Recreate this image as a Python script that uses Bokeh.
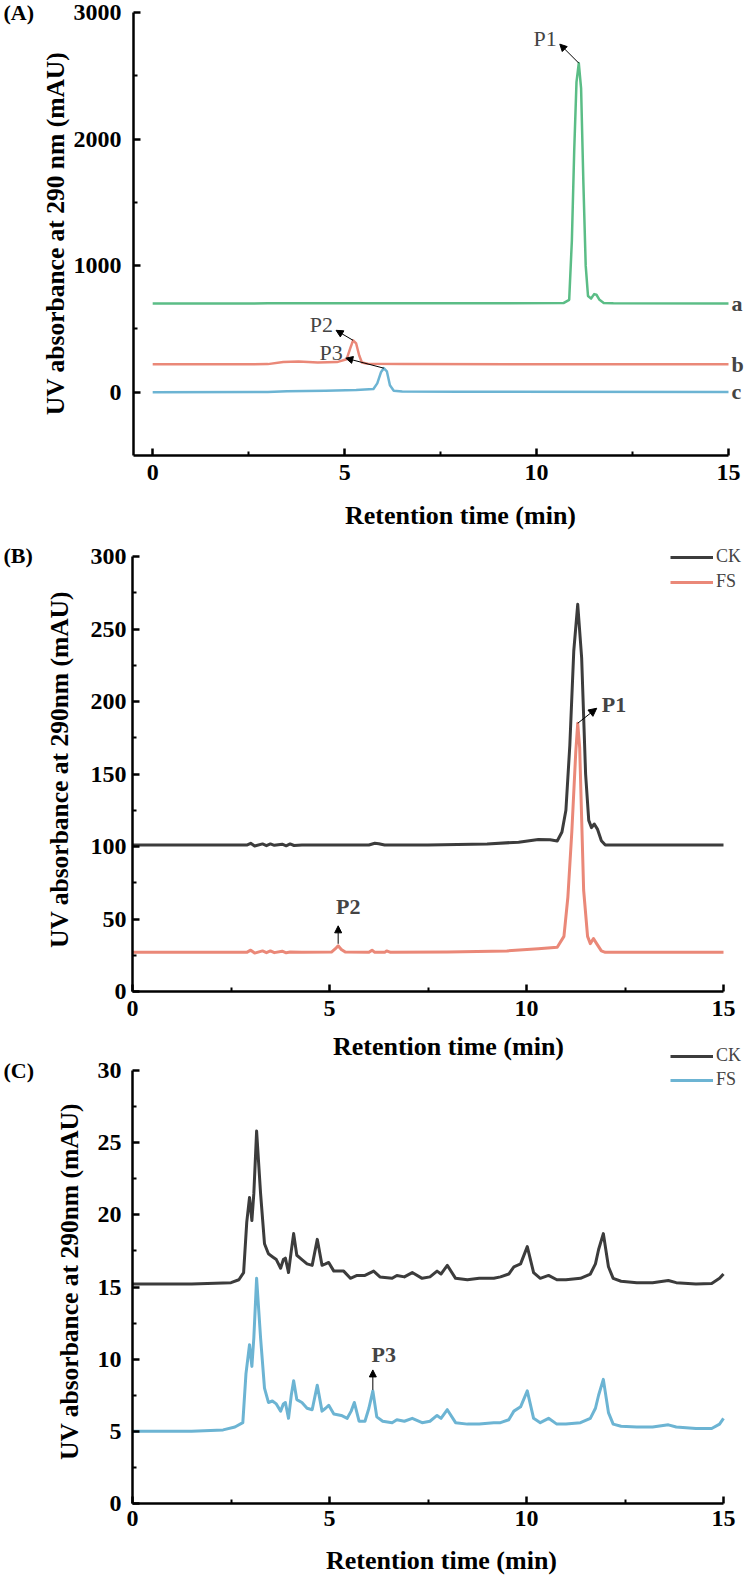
import numpy as np
from bokeh.plotting import figure
from bokeh.models import (Label, Arrow, NormalHead, FixedTicker, Range1d, Legend, LegendItem,
                          LinearAxis)
from bokeh.layouts import column
from bokeh.embed import file_html
from bokeh.resources import INLINE

SERIF = "Liberation Serif"

# ---------------- data : panel A (standards, offset traces) ----------------
a_green_t = [0, 3, 6, 9, 10.7, 10.85, 10.92, 10.98, 11.04, 11.1, 11.16, 11.22, 11.28, 11.34, 11.42, 11.5, 11.56, 11.64, 11.75, 12, 15]
a_green_v = [700, 702, 703, 702, 704, 730, 1200, 1900, 2450, 2600, 2400, 1650, 1000, 760, 740, 775, 770, 730, 705, 702, 700]
a_red_t = [0, 3.0, 3.4, 3.8, 4.3, 4.8, 5.05, 5.15, 5.22, 5.3, 5.38, 5.45, 5.6, 6.5, 10, 15]
a_red_v = [220, 222, 238, 242, 235, 238, 260, 350, 410, 385, 290, 235, 225, 222, 220, 220]
a_blue_t = [0, 3.0, 3.5, 4.5, 5.3, 5.75, 5.85, 5.95, 6.02, 6.1, 6.18, 6.28, 6.5, 8, 15]
a_blue_v = [0, 2, 8, 12, 18, 25, 70, 160, 190, 165, 55, 12, 5, 3, 2]
a_trace_names = ["a", "b", "c"]
a_yticks = [0, 1000, 2000, 3000]
a_yminor = [500, 1500, 2500]

# ---------------- data : panel B ----------------
b_ck_t = [0, 2.9, 3.0, 3.1, 3.3, 3.4, 3.5, 3.6, 3.8, 3.9, 4.0, 4.1, 4.3, 6.0, 6.15, 6.25, 6.4, 7.5, 9.0, 9.8,
          10.3, 10.6, 10.78, 10.9, 11.0, 11.1, 11.2, 11.3, 11.4, 11.5, 11.58, 11.65, 11.72, 11.8, 11.9, 12.0, 13.0, 15.0]
b_ck_v = [101, 101, 102.2, 100.3, 101.8, 100.6, 101.8, 100.8, 101.6, 100.5, 101.8, 100.7, 101, 101, 102.2, 101.9, 101, 101, 101.8, 103,
          104.8, 104.6, 103.8, 110, 125, 170, 235, 267, 230, 150, 118, 113, 115.5, 112, 104, 101, 101, 101]
b_fs_t = [0, 2.9, 3.0, 3.1, 3.3, 3.4, 3.5, 3.6, 3.8, 3.9, 4.0, 4.3, 5.05, 5.15, 5.22, 5.3, 5.4, 6.0, 6.08, 6.15,
          6.4, 6.45, 6.55, 8.0, 9.5, 10.3, 10.78, 10.95, 11.05, 11.15, 11.25, 11.3, 11.35, 11.45, 11.55, 11.62, 11.7, 11.78, 11.9, 12.0, 13.0, 15.0]
b_fs_v = [27, 27, 28.5, 26.5, 28, 26.8, 28, 26.8, 27.8, 26.7, 27.2, 27, 27.2, 29.5, 31.5, 29, 27.2, 27, 28.5, 27,
          27, 28, 27, 27.3, 28, 29.5, 30.5, 38, 65, 110, 165, 185, 168, 70, 38, 33, 36.5, 33, 28, 27, 27, 27]
b_yticks = [0, 50, 100, 150, 200, 250, 300]
b_yminor = [25, 75, 125, 175, 225, 275]

# ---------------- data : panel C ----------------
c_ck_t = [0, 1.5, 2.5, 2.7, 2.82, 2.9, 2.97, 3.03, 3.08, 3.15, 3.25, 3.35, 3.45, 3.55, 3.65, 3.76, 3.83, 3.88, 3.96, 4.03,
          4.09, 4.17, 4.3, 4.43, 4.56, 4.69, 4.81, 4.9, 4.98, 5.11, 5.36, 5.53, 5.7, 5.9, 6.12, 6.28, 6.59, 6.71, 6.9, 7.1,
          7.35, 7.55, 7.73, 7.83, 7.99, 8.2, 8.5, 8.8, 9.17, 9.34, 9.55, 9.68, 9.85, 10.02, 10.18, 10.35, 10.56, 10.77, 11.0, 11.37,
          11.62, 11.75, 11.83, 11.95, 12.08, 12.2, 12.4, 12.8, 13.2, 13.6, 13.8, 14.3, 14.7, 14.9, 15]
c_ck_v = [15.2, 15.2, 15.3, 15.5, 16.0, 19.5, 21.2, 19.6, 21.5, 25.8, 21.5, 18.0, 17.3, 17.1, 16.9, 16.3, 16.9, 17.0, 16.0, 17.5,
          18.7, 17.2, 16.9, 16.6, 16.5, 18.3, 16.5, 16.6, 16.7, 16.1, 16.1, 15.6, 15.8, 15.8, 16.1, 15.7, 15.6, 15.8, 15.7, 16.0,
          15.6, 15.7, 16.1, 15.9, 16.5, 15.6, 15.5, 15.6, 15.6, 15.7, 15.9, 16.4, 16.6, 17.8, 16.0, 15.6, 15.8, 15.5, 15.5, 15.6,
          15.9, 16.6, 17.6, 18.7, 16.4, 15.6, 15.4, 15.3, 15.3, 15.45, 15.3, 15.2, 15.25, 15.6, 15.9]
c_fs_t = [0, 1.5, 2.3, 2.6, 2.8, 2.88, 2.97, 3.03, 3.08, 3.15, 3.25, 3.35, 3.45, 3.55, 3.65, 3.76, 3.83, 3.88, 3.96, 4.03,
          4.09, 4.17, 4.3, 4.43, 4.56, 4.69, 4.81, 4.9, 4.98, 5.11, 5.3, 5.45, 5.55, 5.63, 5.75, 5.9, 6.0, 6.1, 6.2, 6.35,
          6.59, 6.71, 6.9, 7.1, 7.35, 7.55, 7.73, 7.83, 7.99, 8.2, 8.5, 8.8, 9.17, 9.34, 9.55, 9.68, 9.85, 10.02, 10.18, 10.35,
          10.56, 10.77, 11.0, 11.37, 11.62, 11.75, 11.83, 11.95, 12.08, 12.2, 12.4, 12.8, 13.2, 13.6, 13.8, 14.3, 14.7, 14.9, 15]
c_fs_v = [5.0, 5.0, 5.1, 5.3, 5.6, 9.0, 11.0, 9.5, 11.5, 15.6, 11.5, 8.0, 7.0, 7.1, 6.9, 6.4, 6.9, 7.0, 5.9, 7.5,
          8.5, 7.2, 7.0, 6.6, 6.5, 8.2, 6.4, 6.6, 6.8, 6.2, 6.1, 5.9, 6.4, 7.0, 5.7, 5.7, 6.6, 7.8, 6.0, 5.7,
          5.6, 5.8, 5.7, 5.9, 5.6, 5.7, 6.1, 5.9, 6.5, 5.6, 5.5, 5.5, 5.6, 5.6, 5.8, 6.4, 6.7, 7.8, 5.9, 5.6,
          5.9, 5.5, 5.5, 5.6, 5.9, 6.6, 7.5, 8.6, 6.3, 5.5, 5.35, 5.3, 5.3, 5.45, 5.3, 5.2, 5.2, 5.5, 5.9]
c_yticks = [0, 5, 10, 15, 20, 25, 30]
c_yminor = [2.5, 7.5, 12.5, 17.5, 22.5, 27.5]

x_ticks = [0, 5, 10, 15]
x_minor = [2.5, 7.5, 12.5]
series_names = ["CK", "FS"]

for t, v in [(a_green_t, a_green_v), (a_red_t, a_red_v), (a_blue_t, a_blue_v), (b_ck_t, b_ck_v),
             (b_fs_t, b_fs_v), (c_ck_t, c_ck_v), (c_fs_t, c_fs_v)]:
    assert len(t) == len(v), (len(t), len(v))

# ---------------- colours / layout ----------------
GREEN = "#5bbd86"
SALMON = "#ea8878"
BLUE = "#6cb4d3"
DARK = "#3c3c3c"
W = 744
TITLE_SIZE = "25.5px"

# page-pixel geometry of each panel's axes box (figure strip = top .. top+height)
GEOM = {
    "A": dict(top=0, height=535, L=133, R=728, T=12, B=455, x=(-0.5, 15), y=(-500, 3000)),
    "B": dict(top=535, height=495, L=132, R=723, T=556, B=991, x=(0, 15), y=(0, 300)),
    "C": dict(top=1030, height=545, L=132, R=723, T=1070, B=1503, x=(0, 15), y=(0, 30)),
}


def sx(g):
    return (g["R"] - g["L"]) / (g["x"][1] - g["x"][0])


def sy(g):
    return (g["B"] - g["T"]) / (g["y"][1] - g["y"][0])


def to_data(g, X, Y):
    return g["x"][0] + (X - g["L"]) / sx(g), g["y"][0] + (g["B"] - Y) / sy(g)


def dx(g, d):
    return d / sx(g)


def dy(g, d):  # screen px, upward positive
    return d / sy(g)


def make_fig(g, yticks, yminor, ylab_standoff, xlab_standoff):
    # the drawing frame covers the whole figure strip; the axes sit at fixed data locations
    x_start = g["x"][0] - g["L"] / sx(g)
    x_end = g["x"][1] + (W - g["R"]) / sx(g)
    y_end = g["y"][1] + (g["T"] - g["top"]) / sy(g)
    y_start = g["y"][0] - (g["top"] + g["height"] - g["B"]) / sy(g)
    p = figure(width=W, height=g["height"],
               x_range=Range1d(x_start, x_end), y_range=Range1d(y_start, y_end),
               x_axis_type=None, y_axis_type=None,
               output_backend="svg", toolbar_location=None,
               min_border=0, min_border_left=0, min_border_right=0,
               min_border_top=0, min_border_bottom=0)
    p.grid.visible = False
    p.outline_line_color = None

    yax = LinearAxis(fixed_location=g["x"][0], bounds=g["y"],
                     ticker=FixedTicker(ticks=yticks, minor_ticks=yminor))
    xax = LinearAxis(fixed_location=g["y"][0], bounds=g["x"],
                     ticker=FixedTicker(ticks=x_ticks, minor_ticks=x_minor))
    for ax in (xax, yax):
        ax.axis_line_width = 2.5
        ax.axis_line_color = "black"
        ax.major_tick_in = 7
        ax.major_tick_out = 0
        ax.minor_tick_in = 4
        ax.minor_tick_out = 0
        ax.major_tick_line_width = 2.5
        ax.minor_tick_line_width = 2
        ax.major_tick_line_color = "black"
        ax.minor_tick_line_color = "black"
        ax.major_label_text_font = SERIF
        ax.major_label_text_font_style = "bold"
        ax.major_label_text_font_size = "24px"
        ax.major_label_text_color = "black"
    yax.major_label_standoff = ylab_standoff
    xax.major_label_standoff = xlab_standoff
    p.add_layout(yax, "left")
    p.add_layout(xax, "below")
    return p


def add_text(p, g, X, Y, text, size, bold=True, align="left", baseline="middle", angle=0.0):
    x, y = to_data(g, X, Y)
    p.add_layout(Label(x=x, y=y, text=text, text_font=SERIF,
                       text_font_style="bold" if bold else "normal",
                       text_font_size=size, text_color="black",
                       text_align=align, text_baseline=baseline, angle=angle))


def add_arrow(p, x0, y0, x1, y1, size=7):
    p.add_layout(Arrow(end=NormalHead(size=size, fill_color="black", line_color="black", line_width=1),
                       x_start=x0, y_start=y0, x_end=x1, y_end=y1,
                       line_color="black", line_width=1))


def peak(t, v):
    i = int(np.argmax(v))
    return t[i], v[i]


YTITLE_A = "UV absorbance at 290 nm (mAU)"
YTITLE_BC = "UV absorbance at 290nm (mAU)"
XTITLE = "Retention time (min)"

# ================= Panel A =================
gA = GEOM["A"]
pA = make_fig(gA, a_yticks, a_yminor, 12, 9)
pA.line(a_green_t, a_green_v, line_color=GREEN, line_width=2.5, line_join="round")
pA.line(a_red_t, a_red_v, line_color=SALMON, line_width=2.5, line_join="round")
pA.line(a_blue_t, a_blue_v, line_color=BLUE, line_width=2.5, line_join="round")

add_text(pA, gA, 3, 12, "(A)", "22px")
add_text(pA, gA, 55, 233, YTITLE_A, TITLE_SIZE, align="center", angle=np.pi / 2)
add_text(pA, gA, 460, 515, XTITLE, "26px", align="center")

for name, vals in zip(a_trace_names, [a_green_v, a_red_v, a_blue_v]):
    pA.add_layout(Label(x=15 + dx(gA, 3), y=vals[-1], text=name, text_font=SERIF,
                        text_font_style="bold", text_font_size="22px",
                        text_align="left", text_baseline="middle"))

# peak labels: (series peak, name, arrow dx px, arrow dy px)
for (t, v), name, adx, ady in [(peak(a_green_t, a_green_v), "P1", -19, 19),
                               (peak(a_red_t, a_red_v), "P2", -17, 10),
                               (peak(a_blue_t, a_blue_v), "P3", -38, 10)]:
    ex, ey = t + dx(gA, adx), v + dy(gA, ady)
    add_arrow(pA, t, v, ex, ey, size=7)
    pA.add_layout(Label(x=ex - dx(gA, 3), y=ey + dy(gA, 6), text=name, text_font=SERIF,
                        text_font_size="22px", text_align="right", text_baseline="middle"))

# ================= Panel B =================
gB = GEOM["B"]
pB = make_fig(gB, b_yticks, b_yminor, 6, 9)
rB1 = pB.line(b_ck_t, b_ck_v, line_color=DARK, line_width=3, line_join="round")
rB2 = pB.line(b_fs_t, b_fs_v, line_color=SALMON, line_width=3, line_join="round")
add_text(pB, gB, 3, 555, "(B)", "22px")
add_text(pB, gB, 59, 769, YTITLE_BC, TITLE_SIZE, align="center", angle=np.pi / 2)

t1, v1 = peak(b_fs_t, b_fs_v)
add_arrow(pB, t1, v1, t1 + dx(gB, 19), v1 + dy(gB, 15), size=8)
pB.add_layout(Label(x=t1 + dx(gB, 24), y=v1 + dy(gB, 19), text="P1", text_font=SERIF, text_font_style="bold",
                    text_font_size="22px", text_align="left", text_baseline="middle"))
i2 = b_fs_t.index(5.22)
t2, v2 = b_fs_t[i2], b_fs_v[i2]
add_arrow(pB, t2, v2 + dy(gB, 2), t2, v2 + dy(gB, 20), size=7)
pB.add_layout(Label(x=t2 + dx(gB, 10), y=v2 + dy(gB, 39), text="P2", text_font=SERIF, text_font_style="bold",
                    text_font_size="22px", text_align="center", text_baseline="middle"))

legB = Legend(items=[LegendItem(label=series_names[0], renderers=[rB1]),
                     LegendItem(label=series_names[1], renderers=[rB2])],
              location=(670, gB["top"] + gB["height"] - 592), glyph_width=43, glyph_height=20,
              label_height=20, spacing=4, padding=0, margin=0, label_standoff=3,
              label_text_font=SERIF, label_text_font_size="18px",
              border_line_alpha=0, background_fill_alpha=0)
pB.add_layout(legB)

# ================= Panel C =================
gC = GEOM["C"]
pC = make_fig(gC, c_yticks, c_yminor, 11, 7)
rC1 = pC.line(c_ck_t, c_ck_v, line_color=DARK, line_width=3, line_join="round")
rC2 = pC.line(c_fs_t, c_fs_v, line_color=BLUE, line_width=3, line_join="round")
# x-axis title of panel B sits in the strip just above panel C
add_text(pC, gC, 448, 1046, XTITLE, "26px", align="center")
add_text(pC, gC, 3, 1070, "(C)", "22px")
add_text(pC, gC, 69, 1281, YTITLE_BC, TITLE_SIZE, align="center", angle=np.pi / 2)
add_text(pC, gC, 441, 1560, XTITLE, "26px", align="center")

i3 = c_fs_t.index(6.1)
t3, v3 = c_fs_t[i3], c_fs_v[i3]
add_arrow(pC, t3, v3 + dy(gC, 1), t3, v3 + dy(gC, 21), size=7)
pC.add_layout(Label(x=t3 + dx(gC, 11), y=v3 + dy(gC, 36), text="P3", text_font=SERIF, text_font_style="bold",
                    text_font_size="22px", text_align="center", text_baseline="middle"))

legC = Legend(items=[LegendItem(label=series_names[0], renderers=[rC1]),
                     LegendItem(label=series_names[1], renderers=[rC2])],
              location=(670, gC["top"] + gC["height"] - 1090), glyph_width=43, glyph_height=20,
              label_height=20, spacing=3, padding=0, margin=0, label_standoff=3,
              label_text_font=SERIF, label_text_font_size="18px",
              border_line_alpha=0, background_fill_alpha=0)
pC.add_layout(legC)

layout = column(pA, pB, pC, spacing=0)
open("out.html", "w").write(file_html(layout, INLINE))
